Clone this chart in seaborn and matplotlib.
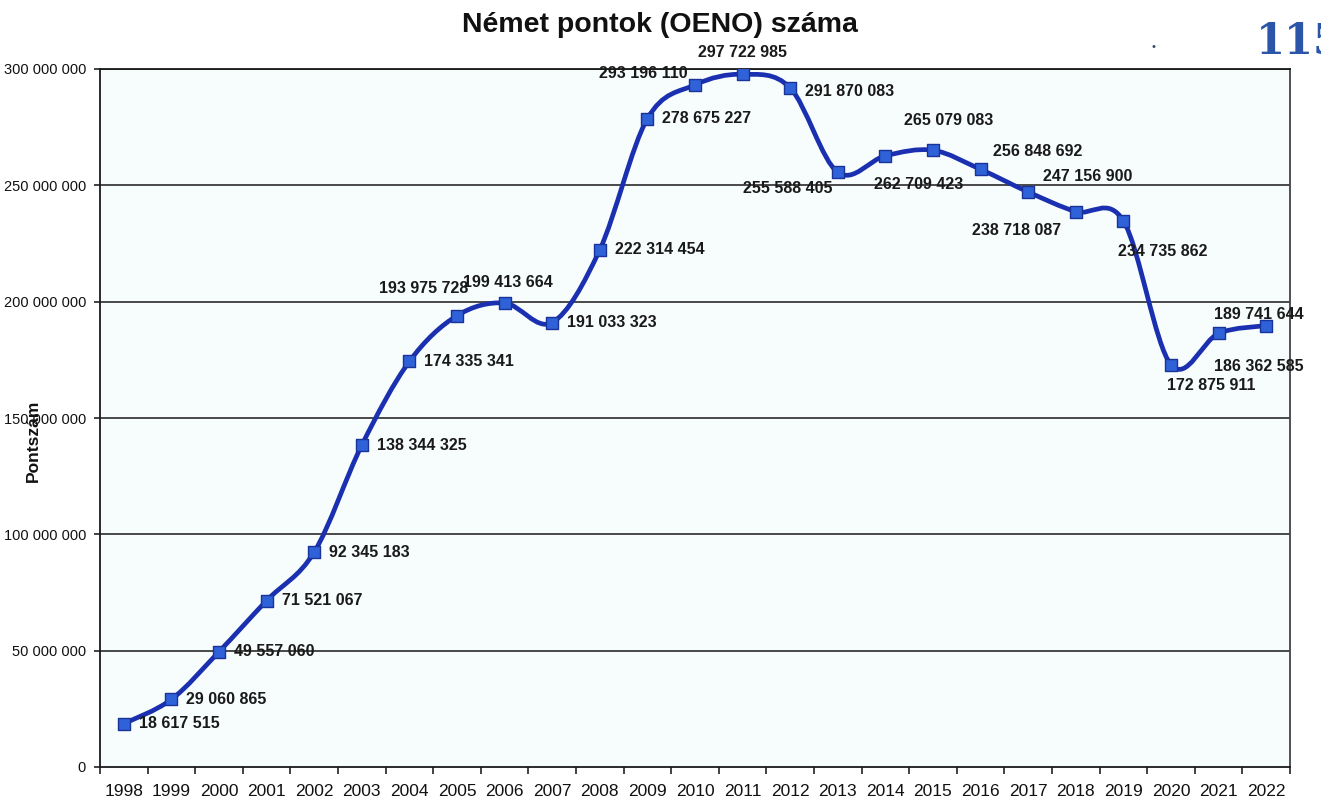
import matplotlib
matplotlib.use("Agg")
import matplotlib.pyplot as plt
import seaborn as sns
import numpy as np
import pandas as pd
from matplotlib.path import Path
from matplotlib.patches import PathPatch
from matplotlib.ticker import FuncFormatter, FixedLocator

# ---------------- data ----------------
years = ["1998", "1999", "2000", "2001", "2002", "2003", "2004", "2005", "2006",
         "2007", "2008", "2009", "2010", "2011", "2012", "2013", "2014", "2015",
         "2016", "2017", "2018", "2019", "2020", "2021", "2022"]
values = [18617515, 29060865, 49557060, 71521067, 92345183, 138344325, 174335341,
          193975728, 199413664, 191033323, 222314454, 278675227, 293196110,
          297722985, 291870083, 255588405, 262709423, 265079083, 256848692,
          247156900, 238718087, 234735862, 172875911, 186362585, 189741644]
y_ticks = [0, 50000000, 100000000, 150000000, 200000000, 250000000, 300000000]
title = "Német pontok (OENO) száma"
y_label = "Pontszám"

# label placement (pixel offsets from marker, horizontal alignment)
default_off = (15, 0, "left")
label_off = {
    "2005": (-33, 27, "center"),
    "2006": (3, 21, "center"),
    "2010": (-7, 11, "right"),
    "2011": (0, 22, "center"),
    "2012": (15, -4, "left"),
    "2013": (-50, -16, "center"),
    "2014": (33, -29, "center"),
    "2015": (16, 30, "center"),
    "2016": (12, 18, "left"),
    "2017": (15, 15, "left"),
    "2018": (-15, -19, "right"),
    "2019": (-5, -31, "left"),
    "2020": (-4, -21, "left"),
    "2021": (-5, -33, "left"),
    "2022": (-52, 11, "left"),
}

df = pd.DataFrame({"idx": np.arange(len(years)), "year": years, "value": values})

sns.set_style("ticks")
plt.rcParams["font.family"] = ["Liberation Sans", "DejaVu Sans"]

W, H = 1321, 800
fig = plt.figure(figsize=(W / 100, H / 100), dpi=100)
fig.patch.set_facecolor("white")
ax = fig.add_axes([100 / W, 1 - 767 / H, (1290 - 100) / W, (767 - 69) / H])
ax.set_facecolor("#f7fcfc")

# gridlines
for yv in y_ticks[1:]:
    ax.axhline(yv, color="#2b2b2b", lw=1.2, zorder=1)

# smooth line (Bezier through data points, Excel-style smoothing)
x = df["idx"].to_numpy(dtype=float)
y = df["value"].to_numpy(dtype=float)
n = len(x)
verts = [(x[0], y[0])]
codes = [Path.MOVETO]
for i in range(n - 1):
    xp, yp = (x[i - 1], y[i - 1]) if i > 0 else (x[i], y[i])
    xn, yn = (x[i + 2], y[i + 2]) if i + 2 < n else (x[i + 1], y[i + 1])
    c1 = (x[i] + (x[i + 1] - xp) / 6, y[i] + (y[i + 1] - yp) / 6)
    c2 = (x[i + 1] - (xn - x[i]) / 6, y[i + 1] - (yn - y[i]) / 6)
    verts += [c1, c2, (x[i + 1], y[i + 1])]
    codes += [Path.CURVE4, Path.CURVE4, Path.CURVE4]
patch = PathPatch(Path(verts, codes), facecolor="none", edgecolor="#1b30b0",
                  lw=3.4, zorder=3, capstyle="round", joinstyle="round")
ax.add_patch(patch)

sns.scatterplot(data=df, x="idx", y="value", marker="s", s=70, color="#2f62d8",
                edgecolor="#1a3399", linewidth=1.0, zorder=4, ax=ax, legend=False)

# data labels
for i, (yr, v) in enumerate(zip(years, values)):
    dx, dy, ha = label_off.get(yr, default_off)
    txt = f"{v:,}".replace(",", " ")
    ax.annotate(txt, (i, v), xytext=(dx, dy), textcoords="offset pixels",
                ha=ha, va="center", fontsize=11.5, fontweight="bold",
                color="#1a1a1a", zorder=5, annotation_clip=False)

# axes
ax.set_xlim(-0.5, len(years) - 0.5)
ax.set_ylim(0, 300000000)
ax.set_xticks(np.arange(len(years)))
ax.set_xticklabels(years)
ax.xaxis.set_minor_locator(FixedLocator(np.arange(-0.5, len(years), 1.0)))
ax.tick_params(axis="x", which="major", length=0, pad=12, labelsize=12.5,
               labelcolor="#111111")
ax.tick_params(axis="x", which="minor", length=5, width=1.2, direction="out",
               color="#222222")
ax.set_yticks(y_ticks)
ax.yaxis.set_major_formatter(FuncFormatter(lambda v, p: f"{int(v):,}".replace(",", " ")))
ax.tick_params(axis="y", length=4, width=1.2, direction="out", pad=6,
               labelsize=10.5, labelcolor="#111111", color="#222222")
ax.set_xlabel("")
ax.set_ylabel("")
for s in ["left", "bottom", "right", "top"]:
    ax.spines[s].set_visible(True)
    ax.spines[s].set_color("#1a1a1a")
    ax.spines[s].set_linewidth(1.3)
ax.spines["right"].set_color("#444444")

fig.text(660 / W, 1 - 25 / H, title, ha="center", va="center",
         fontsize=20.5, fontweight="bold", color="#111111")
fig.text(33 / W, 1 - 441 / H, y_label, rotation=90, ha="center", va="center",
         fontsize=12.5, fontweight="bold", color="#111111")

# page number fragment and dot from the scan
fig.text(1256 / W, 1 - 53 / H, "115", ha="left", va="baseline",
         fontsize=30, fontweight="bold", color="#2a55a8",
         family=["DejaVu Serif"])
fig.text(1153 / W, 1 - 47 / H, "•", ha="center", va="center", fontsize=8,
         color="#3a4a6a")

fig.savefig("out.png", dpi=100)
